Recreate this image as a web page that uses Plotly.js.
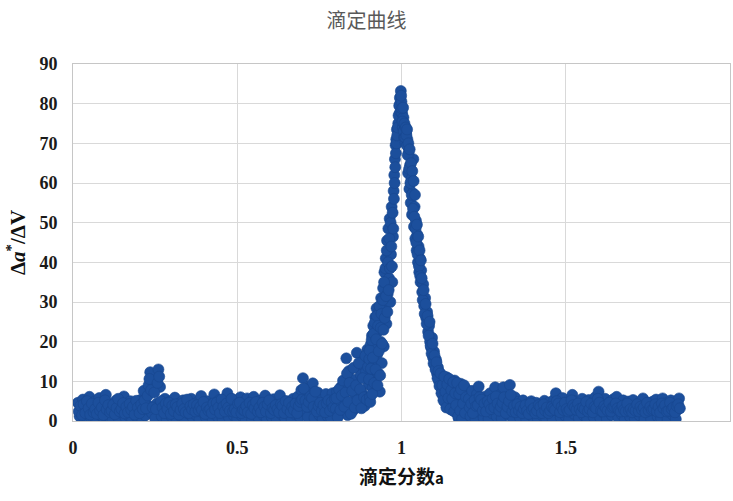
<!DOCTYPE html>
<html>
<head>
<meta charset="utf-8">
<script src="https://cdn.plot.ly/plotly-3.0.1.min.js"></script>
<style>
  html, body { margin: 0; padding: 0; background: #ffffff; }
  #chart { width: 733px; height: 501px; }
</style>
</head>
<body>
<div id="chart"></div>
<script>
// Titration derivative curve: Δa*/ΔV against titration fraction a.

// Flat region before the equivalence point (two interleaved readings)
const baseLeftX = [
  0.015,0.020,0.025,0.030,0.035,0.040,0.045,0.050,0.055,0.060,
  0.065,0.070,0.075,0.080,0.085,0.090,0.095,0.100,0.105,0.110,
  0.115,0.120,0.125,0.130,0.135,0.140,0.145,0.150,0.155,0.160,
  0.165,0.170,0.175,0.180,0.185,0.190,0.195,0.200,0.205,0.210,
  0.215,0.220,0.225,0.230,0.235,0.240,0.245,0.250,0.255,0.260,
  0.265,0.270,0.275,0.280,0.285,0.290,0.295,0.300,0.305,0.310,
  0.315,0.320,0.325,0.330,0.335,0.340,0.345,0.350,0.355,0.360,
  0.365,0.370,0.375,0.380,0.385,0.390,0.395,0.400,0.405,0.410,
  0.415,0.420,0.425,0.430,0.435,0.440,0.445,0.450,0.455,0.460,
  0.465,0.470,0.475,0.480,0.485,0.490,0.495,0.500,0.505,0.510,
  0.515,0.520,0.525,0.530,0.535,0.540,0.545,0.550,0.555,0.560,
  0.565,0.570,0.575,0.580,0.585,0.590,0.595,0.600,0.605,0.610,
  0.615,0.620,0.625,0.630,0.635,0.640,0.645,0.650,0.655,0.660,
  0.665,0.670,0.675,0.680,0.685,0.690,0.695,0.700,0.705,0.710,
  0.715,0.720,0.725,0.730,0.735,0.740,0.745,0.750,0.755,0.760,
  0.765,0.770,0.775,0.780,0.785,0.790,0.795
];
const baseLeftY = [
  4.6,1.2,2.8,5.4,0.5,3.6,1.8,6.1,0.9,3.0,
  4.9,0.4,2.2,5.8,1.4,3.9,0.7,6.6,2.5,1.0,
  4.3,0.6,3.2,5.1,1.6,0.3,4.7,2.0,6.2,0.8,
  3.5,1.3,5.0,0.5,2.7,4.4,1.0,3.1,5.3,0.7,
  7.6,1.4,4.2,9.0,12.3,2.0,10.0,0.6,4.4,13.0,
  8.6,1.2,3.8,5.6,0.5,2.6,4.9,1.1,3.4,5.9,
  0.6,2.3,4.5,1.0,5.2,0.4,3.0,4.1,1.7,5.6,
  0.8,3.3,1.5,4.8,0.5,6.3,2.1,3.7,0.9,5.0,
  1.8,4.2,0.4,6.7,2.6,1.1,5.3,3.0,0.7,4.6,
  2.0,7.0,0.9,3.8,5.5,1.3,4.1,0.5,2.9,6.0,
  1.2,4.4,0.7,5.7,2.5,3.6,0.4,6.1,1.9,4.0,
  0.8,5.2,2.8,1.4,6.4,0.6,3.3,4.7,1.0,5.5,
  2.2,0.5,4.3,6.5,1.6,3.1,0.9,5.0,2.4,4.1,
  0.7,5.6,1.8,3.5,6.2,1.1,7.8,10.8,2.6,5.9,
  1.0,8.7,3.4,9.5,0.8,4.6,7.2,1.5,5.3,0.6,
  3.9,6.8,1.2,4.5,0.9,7.0,2.8
];
const baseLeftX2 = [
  0.0175,0.0225,0.0275,0.0325,0.0375,0.0425,0.0475,0.0525,0.0575,0.0625,
  0.0675,0.0725,0.0775,0.0825,0.0875,0.0925,0.0975,0.1025,0.1075,0.1125,
  0.1175,0.1225,0.1275,0.1325,0.1375,0.1425,0.1475,0.1525,0.1575,0.1625,
  0.1675,0.1725,0.1775,0.1825,0.1875,0.1925,0.1975,0.2025,0.2075,0.2125,
  0.2175,0.2225,0.2275,0.2325,0.2375,0.2425,0.2475,0.2525,0.2575,0.2625,
  0.2675,0.2725,0.2775,0.2825,0.2875,0.2925,0.2975,0.3025,0.3075,0.3125,
  0.3175,0.3225,0.3275,0.3325,0.3375,0.3425,0.3475,0.3525,0.3575,0.3625,
  0.3675,0.3725,0.3775,0.3825,0.3875,0.3925,0.3975,0.4025,0.4075,0.4125,
  0.4175,0.4225,0.4275,0.4325,0.4375,0.4425,0.4475,0.4525,0.4575,0.4625,
  0.4675,0.4725,0.4775,0.4825,0.4875,0.4925,0.4975,0.5025,0.5075,0.5125,
  0.5175,0.5225,0.5275,0.5325,0.5375,0.5425,0.5475,0.5525,0.5575,0.5625,
  0.5675,0.5725,0.5775,0.5825,0.5875,0.5925,0.5975,0.6025,0.6075,0.6125,
  0.6175,0.6225,0.6275,0.6325,0.6375,0.6425,0.6475,0.6525,0.6575,0.6625,
  0.6675,0.6725,0.6775,0.6825,0.6875,0.6925,0.6975,0.7025,0.7075,0.7125,
  0.7175,0.7225,0.7275,0.7325,0.7375,0.7425,0.7475,0.7525,0.7575,0.7625,
  0.7675,0.7725,0.7775,0.7825,0.7875,0.7925,0.7975
];
const baseLeftY2 = [
  2.4,3.8,1.5,4.2,2.0,5.0,3.2,1.6,4.4,2.2,
  3.0,1.8,4.6,2.6,3.4,1.5,5.2,2.9,4.0,2.2,
  2.6,4.1,1.7,3.3,5.6,2.4,3.0,4.5,1.9,3.6,
  2.2,4.3,2.8,3.6,1.6,5.1,3.4,2.0,4.2,3.0,
  5.2,3.2,6.4,10.6,7.8,3.4,7.2,3.0,9.6,11.2,
  5.0,3.4,2.0,4.4,3.0,4.6,1.8,3.9,2.5,4.2,
  3.5,1.6,2.8,4.4,3.0,2.2,5.4,2.0,3.8,2.9,
  4.2,2.4,4.0,2.7,3.6,2.8,4.8,1.8,3.4,2.6,
  3.0,2.0,4.4,2.9,4.6,3.4,2.0,5.4,3.6,2.4,
  4.4,3.4,2.6,5.6,2.4,3.0,2.2,4.4,4.6,2.0,
  2.8,2.6,3.8,2.2,4.6,1.8,4.0,3.2,4.8,2.4,
  3.4,2.2,4.6,3.6,2.4,4.2,5.2,2.0,3.2,2.8,
  4.0,3.0,2.2,4.2,3.8,2.0,5.0,3.0,4.6,2.2,
  3.6,2.8,4.4,2.0,3.8,4.8,5.4,8.2,5.2,3.6,
  4.8,6.2,5.8,3.6,7.4,2.4,3.8,4.6,2.6,4.0,
  2.2,4.4,5.2,2.6,4.8,3.4,5.6
];

// Onset of the jump (two interleaved readings)
const riseX = [
  0.800,0.804,0.808,0.812,0.816,0.820,0.824,0.828,0.832,0.836,
  0.840,0.844,0.848,0.852,0.856,0.860,0.864,0.868,0.872,0.876,
  0.880,0.884,0.888,0.892,0.896,0.900
];
const riseY = [
  3.1,7.4,1.6,5.2,8.6,2.3,6.0,9.4,15.8,1.5,
  12.6,4.0,8.2,2.6,10.4,6.3,17.2,13.8,4.4,11.6,
  7.0,15.2,3.8,12.4,18.0,9.2
];
const riseX2 = [
  0.802,0.806,0.810,0.814,0.818,0.822,0.826,0.830,0.834,0.838,
  0.842,0.846,0.850,0.854,0.858,0.862,0.866,0.870,0.874,0.878,
  0.882,0.886,0.890,0.894,0.898
];
const riseY2 = [
  5.8,0.9,8.0,2.8,6.4,10.2,3.6,7.2,12.0,4.8,
  9.6,1.8,7.6,13.4,3.4,9.0,5.2,14.6,8.0,3.2,
  10.8,6.0,16.4,5.4,13.6
];

// Steep rising flank up to the maximum
const peakUpX = [
  0.902,0.904,0.906,0.908,0.910,0.912,0.914,0.916,0.918,0.920,
  0.922,0.924,0.926,0.928,0.930,0.932,0.934,0.936,0.938,0.940,
  0.942,0.944,0.946,0.948,0.950,0.952,0.954,0.956,0.958,0.960,
  0.962,0.964,0.966,0.968,0.970,0.972,0.974,0.976,0.978,0.980,
  0.982,0.984,0.986,0.988,0.990,0.992,0.994,0.996,0.998
];
const peakUpY = [
  15.6,6.0,19.2,11.0,21.5,8.4,24.0,14.2,18.4,26.2,
  10.6,28.4,16.8,22.6,12.0,27.6,7.4,20.0,31.0,14.6,
  25.8,33.5,18.8,37.5,28.0,41.0,24.5,45.5,32.0,48.5,
  36.0,51.0,30.0,42.0,54.0,35.0,46.5,58.0,62.0,66.0,
  69.5,71.0,73.5,70.5,75.0,72.5,77.5,80.0,83.2
];
const peakUpX2 = [
  0.901,0.903,0.905,0.907,0.909,0.911,0.913,0.915,0.917,0.919,
  0.921,0.923,0.925,0.927,0.929,0.931,0.933,0.935,0.937,0.939,
  0.941,0.943,0.945,0.947,0.949,0.951,0.953,0.955,0.957,0.959,
  0.961,0.963,0.965,0.967,0.969,0.971,0.973,0.975,0.977,0.979,
  0.981,0.983,0.985,0.987,0.989,0.991,0.993,0.995,0.997
];
const peakUpY2 = [
  10.5,17.8,4.8,13.2,20.4,6.8,16.0,22.0,9.6,24.8,
  13.0,20.6,26.5,9.0,24.0,17.6,29.0,11.5,23.5,27.0,
  19.5,30.5,23.0,35.0,26.0,38.5,31.5,43.0,27.5,40.0,
  33.0,46.0,38.5,50.0,44.0,39.0,52.5,48.5,56.0,60.0,
  64.0,67.5,70.0,72.0,74.0,77.0,79.5,81.5,78.0
];

// Falling flank just past the maximum
const peakDownX = [
  1.000,1.002,1.004,1.006,1.008,1.010,1.012,1.014,1.016,1.018,
  1.020,1.022,1.024,1.026,1.028,1.030,1.032,1.034,1.036,1.038,
  1.040,1.042,1.044,1.046,1.048,1.050,1.052,1.054,1.056,1.058,
  1.060
];
const peakDownY = [
  80.5,77.6,74.0,76.5,71.5,73.8,70.2,72.6,69.5,71.0,
  62.5,67.8,58.5,64.5,55.0,61.0,52.0,57.5,66.0,49.0,
  54.0,46.0,50.5,43.0,47.0,40.0,44.0,37.5,41.0,35.0,
  38.0
];
const peakDownX2 = [
  0.999,1.001,1.003,1.005,1.007,1.009,1.011,1.013,1.015,1.017,
  1.019,1.021,1.023,1.025,1.027,1.029,1.031,1.033,1.035,1.037,
  1.039,1.041,1.043,1.045,1.047,1.049,1.051,1.053,1.055,1.057,
  1.059
];
const peakDownY2 = [
  82.0,78.8,75.5,79.0,73.0,75.0,71.5,74.0,72.0,73.5,
  67.0,70.0,63.5,68.5,60.0,65.0,57.0,63.0,53.5,60.5,
  51.5,57.0,48.5,45.0,49.5,42.0,46.5,39.0,43.0,36.5,
  40.5
];

// Tail of the jump back to the baseline
const fallX = [
  1.063,1.066,1.069,1.072,1.075,1.078,1.081,1.084,1.087,1.090,
  1.093,1.096,1.099,1.102,1.105,1.108,1.111,1.114,1.117,1.120,
  1.123,1.126,1.129,1.132,1.135,1.138,1.141,1.144,1.147,1.150,
  1.153,1.156,1.159,1.162,1.165,1.168,1.171,1.174,1.177,1.180,
  1.183,1.186,1.189,1.192,1.195,1.198
];
const fallY = [
  32.5,34.5,29.0,31.0,26.0,27.5,22.5,24.0,20.0,18.5,
  21.0,16.0,17.5,14.0,15.5,12.0,13.5,10.0,11.5,8.5,
  10.8,6.5,9.6,4.8,8.0,11.0,3.6,7.2,9.8,5.0,
  2.8,8.6,4.2,10.2,6.0,2.0,8.8,0.6,4.6,9.4,
  1.5,6.4,0.4,3.2,8.2,1.0
];
const fallX2 = [
  1.0615,1.0645,1.0675,1.0705,1.0735,1.0765,1.0795,1.0825,1.0855,1.0885,
  1.0915,1.0945,1.0975,1.1005,1.1035,1.1065,1.1095,1.1125,1.1155,1.1185,
  1.1215,1.1245,1.1275,1.1305,1.1335,1.1365,1.1395,1.1425,1.1455,1.1485,
  1.1515,1.1545,1.1575,1.1605,1.1635,1.1665,1.1695,1.1725,1.1755,1.1785,
  1.1815,1.1845,1.1875,1.1905,1.1935,1.1965
];
const fallY2 = [
  36.0,30.5,33.0,27.0,29.5,24.5,26.5,21.5,25.0,19.0,
  17.0,19.5,14.5,16.5,13.0,14.8,10.8,12.6,8.8,12.0,
  7.0,9.0,5.2,11.2,7.4,3.4,9.2,5.8,10.6,3.0,
  7.8,5.6,9.8,2.4,7.0,4.0,9.6,1.2,6.8,2.6,
  8.0,0.5,4.4,9.0,2.0,6.0
];

// Flat region after the equivalence point (two interleaved readings)
const baseRightX = [
  1.205,1.210,1.215,1.220,1.225,1.230,1.235,1.240,1.245,1.250,
  1.255,1.260,1.265,1.270,1.275,1.280,1.285,1.290,1.295,1.300,
  1.305,1.310,1.315,1.320,1.325,1.330,1.335,1.340,1.345,1.350,
  1.355,1.360,1.365,1.370,1.375,1.380,1.385,1.390,1.395,1.400,
  1.405,1.410,1.415,1.420,1.425,1.430,1.435,1.440,1.445,1.450,
  1.455,1.460,1.465,1.470,1.475,1.480,1.485,1.490,1.495,1.500,
  1.505,1.510,1.515,1.520,1.525,1.530,1.535,1.540,1.545,1.550,
  1.555,1.560,1.565,1.570,1.575,1.580,1.585,1.590,1.595,1.600,
  1.605,1.610,1.615,1.620,1.625,1.630,1.635,1.640,1.645,1.650,
  1.655,1.660,1.665,1.670,1.675,1.680,1.685,1.690,1.695,1.700,
  1.705,1.710,1.715,1.720,1.725,1.730,1.735,1.740,1.745,1.750,
  1.755,1.760,1.765,1.770,1.775,1.780,1.785,1.790,1.795,1.800,
  1.805,1.810,1.815,1.820,1.825,1.830,1.835,1.840,1.845
];
const baseRightY = [
  5.6,1.2,7.6,3.0,0.5,6.8,8.7,2.2,4.9,0.8,
  6.2,3.5,0.6,7.0,2.0,5.4,8.5,1.1,4.0,6.6,
  0.7,8.5,3.2,5.8,1.5,9.1,4.4,0.5,6.0,2.6,
  4.8,0.9,3.6,5.2,1.8,0.4,4.3,2.7,5.0,1.0,
  3.4,4.6,0.6,2.2,4.0,1.3,5.1,0.8,3.0,4.7,
  1.6,0.5,5.4,7.0,2.5,4.2,0.9,5.8,3.1,1.2,
  4.6,0.4,3.7,6.6,1.8,5.0,2.6,0.7,4.4,5.6,
  1.4,3.2,0.6,5.3,2.4,4.7,1.0,6.0,3.6,7.4,
  0.8,4.1,2.0,5.6,0.5,3.4,4.8,1.5,5.5,2.7,
  6.1,0.9,4.3,1.7,5.2,0.4,3.0,4.9,1.2,3.8,
  5.3,0.7,2.6,4.4,1.4,5.0,5.7,0.6,3.5,4.6,
  1.8,0.5,4.9,2.9,5.4,1.1,3.7,0.8,5.7,2.3,
  4.5,0.6,3.3,5.2,1.6,4.0,0.5,2.8,5.7
];
const baseRightX2 = [
  1.2075,1.2125,1.2175,1.2225,1.2275,1.2325,1.2375,1.2425,1.2475,1.2525,
  1.2575,1.2625,1.2675,1.2725,1.2775,1.2825,1.2875,1.2925,1.2975,1.3025,
  1.3075,1.3125,1.3175,1.3225,1.3275,1.3325,1.3375,1.3425,1.3475,1.3525,
  1.3575,1.3625,1.3675,1.3725,1.3775,1.3825,1.3875,1.3925,1.3975,1.4025,
  1.4075,1.4125,1.4175,1.4225,1.4275,1.4325,1.4375,1.4425,1.4475,1.4525,
  1.4575,1.4625,1.4675,1.4725,1.4775,1.4825,1.4875,1.4925,1.4975,1.5025,
  1.5075,1.5125,1.5175,1.5225,1.5275,1.5325,1.5375,1.5425,1.5475,1.5525,
  1.5575,1.5625,1.5675,1.5725,1.5775,1.5825,1.5875,1.5925,1.5975,1.6025,
  1.6075,1.6125,1.6175,1.6225,1.6275,1.6325,1.6375,1.6425,1.6475,1.6525,
  1.6575,1.6625,1.6675,1.6725,1.6775,1.6825,1.6875,1.6925,1.6975,1.7025,
  1.7075,1.7125,1.7175,1.7225,1.7275,1.7325,1.7375,1.7425,1.7475,1.7525,
  1.7575,1.7625,1.7675,1.7725,1.7775,1.7825,1.7875,1.7925,1.7975,1.8025,
  1.8075,1.8125,1.8175,1.8225,1.8275,1.8325,1.8375,1.8425,1.8475
];
const baseRightY2 = [
  3.4,4.4,2.0,5.2,3.8,4.0,6.0,5.4,2.6,4.4,
  2.4,5.0,4.2,3.0,5.6,3.4,6.2,4.4,2.6,3.6,
  4.6,6.0,2.0,3.6,5.0,6.6,2.4,3.8,2.2,4.2,
  2.6,3.6,2.0,3.0,4.0,2.6,1.8,4.4,2.8,3.2,
  2.0,2.6,4.0,3.6,2.0,4.2,2.6,3.4,2.0,2.6,
  3.6,3.2,2.8,5.0,4.4,2.2,3.6,2.8,4.6,3.0,
  2.4,2.8,5.2,4.0,3.4,2.8,4.4,3.0,2.2,3.4,
  3.0,4.8,2.4,3.0,4.4,2.2,3.6,3.2,5.6,4.6,
  2.6,2.4,3.8,3.2,2.6,4.6,2.4,3.4,3.6,4.4,
  3.2,2.6,2.4,3.8,2.8,2.4,4.4,2.6,3.0,2.2,
  3.0,2.6,4.2,2.4,3.6,2.8,3.4,2.2,4.6,2.6,
  3.6,2.8,3.0,4.2,2.4,3.6,2.2,4.4,3.2,4.0,
  2.4,2.6,4.6,3.0,3.4,2.2,3.8,4.2,3.2
];

// Axis ticks
const xTickVals = [0, 0.5, 1, 1.5, 2];
const xTickText = ['0', '0.5', '1', '1.5', '2'];
const yTickVals = [0, 10, 20, 30, 40, 50, 60, 70, 80, 90];
const yTickText = ['0', '10', '20', '30', '40', '50', '60', '70', '80', '90'];

const xs = [].concat(baseLeftX, baseLeftX2, riseX, riseX2, peakUpX, peakUpX2,
                     peakDownX, peakDownX2, fallX, fallX2, baseRightX, baseRightX2);
const ys = [].concat(baseLeftY, baseLeftY2, riseY, riseY2, peakUpY, peakUpY2,
                     peakDownY, peakDownY2, fallY, fallY2, baseRightY, baseRightY2);

const serifBold = {
  family: 'Liberation Serif, Times New Roman, serif',
  size: 18,
  weight: 'bold',
  color: '#1a1a1a'
};
const gridColor = '#d9d9d9';

const trace = {
  type: 'scatter',
  mode: 'markers',
  x: xs,
  y: ys,
  marker: {
    size: 11,
    color: '#1c4f9c',
    line: { width: 0.6, color: '#18468f' }
  },
  hoverinfo: 'skip'
};

const layout = {
  width: 733,
  height: 501,
  margin: { l: 73, r: 3, t: 64, b: 80 },
  paper_bgcolor: '#ffffff',
  plot_bgcolor: '#ffffff',
  showlegend: false,
  title: {
    text: '滴定曲线',
    font: { family: 'Noto Sans CJK SC, sans-serif', size: 20, color: '#595959' },
    x: 0.5,
    xref: 'container',
    xanchor: 'center',
    y: 0.958,
    yref: 'container',
    yanchor: 'middle'
  },
  xaxis: {
    range: [0, 2],
    tickmode: 'array',
    tickvals: xTickVals,
    ticktext: xTickText,
    ticks: '',
    ticklabelstandoff: 10,
    tickfont: serifBold,
    showgrid: true,
    gridcolor: gridColor,
    gridwidth: 1,
    zeroline: false,
    showline: true,
    linecolor: '#c6c6c6',
    linewidth: 1,
    mirror: true,
    fixedrange: true,
    title: {
      text: '滴定分数<span style="font-size:15px">a</span>',
      font: { family: 'Noto Sans CJK SC, sans-serif', size: 19, weight: 'bold', color: '#111111' },
      standoff: 14
    }
  },
  yaxis: {
    range: [0, 90],
    tickmode: 'array',
    tickvals: yTickVals,
    ticktext: yTickText,
    ticks: '',
    ticklabelstandoff: 11,
    tickfont: serifBold,
    showgrid: true,
    gridcolor: gridColor,
    gridwidth: 1,
    zeroline: false,
    showline: true,
    linecolor: '#c6c6c6',
    linewidth: 1,
    mirror: true,
    fixedrange: true,
    title: {
      text: 'Δ<i>a</i><sup>*</sup>/ΔV',
      font: { family: 'Liberation Serif, Times New Roman, serif', size: 21, weight: 'bold', color: '#111111' },
      standoff: 8
    }
  }
};

Plotly.newPlot('chart', [trace], layout, { staticPlot: true, displayModeBar: false });
</script>
</body>
</html>
